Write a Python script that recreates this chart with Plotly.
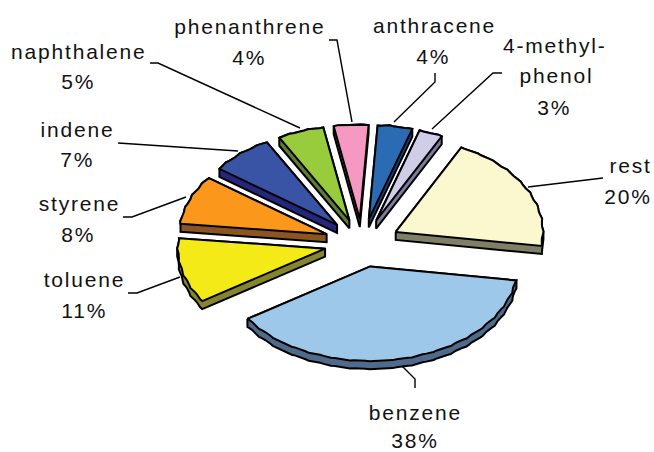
import math
import plotly.graph_objects as go

# Data, clockwise from the start angle
names = ["rest", "benzene", "toluene", "styrene", "indene", "naphthalene",
         "phenanthrene", "anthracene", "4-methyl-phenol"]
shares = [20.0, 38.3, 11.1, 8.4, 6.9, 5.1, 3.8, 3.8, 2.6]
top_colors = ["#FBF7CE", "#9DC8EA", "#F3EA17", "#FB981C", "#3954A4", "#99CC3C",
              "#F598C2", "#2A6BB3", "#CFCDE8"]
side_colors = ["#7F7F66", "#4F6B8C", "#85852F", "#8A5520", "#25277F", "#5E7C35",
               "#7A4C61", "#1D3F7A", "#7C7B99"]

# Label lines: text, x, y
label_names = [("rest", 630, 165), ("benzene", 415, 412), ("toluene", 84.5, 279),
               ("styrene", 79.5, 203), ("indene", 77.5, 129), ("naphthalene", 79, 51),
               ("phenanthrene", 250, 26), ("anthracene", 434, 25),
               ("4-methyl-", 555, 45), ("phenol", 556, 75)]
label_pcts = [(628, 196), (415, 440), (84, 310), (78, 234), (77, 159), (78, 81),
              (249, 57), (433, 56), (554, 107)]

# Leader lines, one for each slice
leaders = [[(528, 187), (595, 179), (603, 178)],
           [(402, 366), (415, 379), (415, 388)],
           [(128, 293), (137, 293), (180, 277)],
           [(123, 217), (132, 217), (186, 197)],
           [(118, 143), (238, 151)],
           [(150, 63), (158, 63), (300, 128)],
           [(329, 40), (337, 40), (352, 122)],
           [(435, 73), (435, 82), (394, 122)],
           [(502, 73), (493, 73), (432, 129)]]

# Projection of the pie
CX, CY, RX, RY = 362, 243, 148, 95
EX, EY = 38, 24
DEPTH = 8
START = 26.5
LW = 2


def wedge(a0, a1):
    """Return the smooth outline and a slightly scalloped copy of one slice."""
    m = math.radians((a0 + a1) / 2)
    ax = CX + EX * math.sin(m)
    ay = CY - EY * math.cos(m)
    smooth, rough = [(ax, ay)], [(ax, ay)]
    n = max(6, int((a1 - a0) / 1.5))
    for i in range(n + 1):
        deg = a0 + (a1 - a0) * i / n
        t = math.radians(deg)
        k = 1 - 0.01 * abs(math.sin(math.radians(deg * 22)))
        smooth.append((ax + RX * math.sin(t), ay - RY * math.cos(t)))
        rough.append((ax + RX * k * math.sin(t), ay - RY * k * math.cos(t)))
    return smooth, rough


def hull_indices(points):
    order = sorted(range(len(points)), key=lambda i: points[i])

    def cross(o, a, b):
        return ((points[a][0] - points[o][0]) * (points[b][1] - points[o][1])
                - (points[a][1] - points[o][1]) * (points[b][0] - points[o][0]))

    lower, upper = [], []
    for i in order:
        while len(lower) > 1 and cross(lower[-2], lower[-1], i) <= 0:
            lower.pop()
        lower.append(i)
    for i in reversed(order):
        while len(upper) > 1 and cross(upper[-2], upper[-1], i) <= 0:
            upper.pop()
        upper.append(i)
    return lower[:-1] + upper[:-1]


fig = go.Figure()
angle = START
for name, share, top, side, leader in zip(names, shares, top_colors, side_colors, leaders):
    sweep = share * 3.6
    smooth, rough = wedge(angle, angle + sweep)
    angle += sweep
    # Extruded silhouette
    both = smooth + [(x, y + DEPTH) for x, y in smooth]
    both_rough = rough + [(x, y + DEPTH) for x, y in rough]
    idx = hull_indices(both)
    sil = [both_rough[i] for i in idx]
    sil.append(sil[0])
    fig.add_trace(go.Scatter(x=[p[0] for p in sil], y=[p[1] for p in sil], mode="lines",
                             fill="toself", fillcolor=side,
                             line=dict(color="black", width=LW), hoverinfo="skip"))
    ring = rough + [rough[0]]
    fig.add_trace(go.Scatter(x=[p[0] for p in ring], y=[p[1] for p in ring], mode="lines",
                             fill="toself", fillcolor=top, name=name,
                             line=dict(color="black", width=LW), hoverinfo="skip"))
    fig.add_trace(go.Scatter(x=[p[0] for p in leader], y=[p[1] for p in leader], mode="lines",
                             line=dict(color="black", width=1.4), hoverinfo="skip"))

annotations = []
font = dict(family="Liberation Sans, Arial, sans-serif", size=21, color="#111111")
for text, x, y in label_names:
    annotations.append(dict(x=x, y=y, text=text, showarrow=False, font=font,
                            xanchor="center", yanchor="middle"))
for (x, y), share in zip(label_pcts, shares):
    annotations.append(dict(x=x, y=y, text=f"{share:.0f}%", showarrow=False, font=font,
                            xanchor="center", yanchor="middle"))

fig.update_layout(
    width=654, height=452, showlegend=False, autosize=False,
    margin=dict(l=0, r=0, t=0, b=0),
    paper_bgcolor="white", plot_bgcolor="white",
    xaxis=dict(range=[0, 654], visible=False, fixedrange=True),
    yaxis=dict(range=[452, 0], visible=False, fixedrange=True),
    annotations=annotations,
)
fig.write_html("out.html", config=dict(displayModeBar=False),
               post_script="document.body.style.margin='0';"
                           "document.querySelectorAll('.annotation-text').forEach("
                           "function(t){t.style.letterSpacing='1.8px';});")
